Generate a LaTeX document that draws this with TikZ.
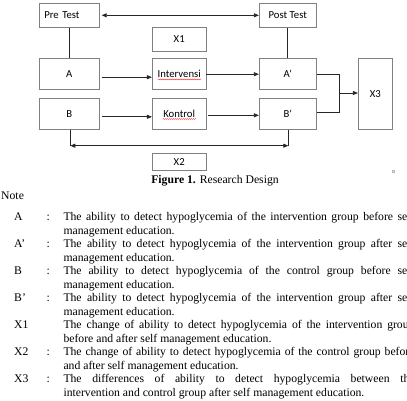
\documentclass[tikz,border=0pt]{standalone}
\usepackage{fontspec}
\setmainfont{Liberation Serif}
\newfontfamily\boxfont{Carlito}
\usetikzlibrary{positioning,arrows.meta,calc,decorations.pathmorphing}

\begin{document}
\begin{tikzpicture}[
    x=1pt, y=-1pt,
    box/.style={draw=black!50, line width=0.8pt, rectangle, align=center, inner sep=0pt, font=\boxfont\fontsize{10.7}{12}\selectfont},
    col1/.style={box, minimum width=60pt},
    col2/.style={box, minimum width=53.7pt},
    col3/.style={box, minimum width=57pt},
    arrow/.style={-{Triangle[length=5pt,width=4pt]}, line width=0.8pt, black!85},
    both/.style={{Triangle[length=5pt,width=4pt]}-{Triangle[length=5pt,width=4pt]}, line width=0.8pt, black!85},
    link/.style={line width=0.8pt, black!85},
    txt/.style={inner sep=0pt, anchor=west, text height=8pt, text depth=2.5pt, font=\fontsize{11.7}{13.5}\selectfont},
    wavy/.style={red!80, line width=0.4pt, decorate, decoration={snake, amplitude=0.5pt, segment length=2pt}}
]
\useasboundingbox (0,0) rectangle (407,401);

\node[col1, minimum height=24pt, text width=50pt, align=left] (pre) at (69.3,15.3) {Pre Test};
\node[col3, minimum height=24pt] (post) at (287.8,15.3) {Post Test};
\node[col2, minimum height=24pt] (xone) at (179.2,39.3) {X1};
\node[col1, minimum height=31pt] (a) at (69.3,74.2) {A};
\node[col2, minimum height=31pt] (interv) at (179.2,74.2) {Intervensi};
\node[col3, minimum height=31pt] (aprime) at (287.8,74.2) {A'};
\node[col1, minimum height=31pt] (b) at (69.3,113.8) {B};
\node[col2, minimum height=31pt] (kontrol) at (179.2,113.8) {Kontrol};
\node[col3, minimum height=31pt] (bprime) at (287.8,113.8) {B'};
\node[box, minimum width=34pt, minimum height=70.6pt] (xthree) at (375.3,94) {X3};
\node[col2, minimum height=16.7pt] (xtwo) at (179.2,161.7) {X2};

\draw[wavy] ($(interv.center)+(-21.5,5.2)$) -- ($(interv.center)+(22,5.2)$);
\draw[wavy] ($(kontrol.center)+(-16.5,5.2)$) -- ($(kontrol.center)+(17,5.2)$);

\draw[both] ([xshift=2pt]pre.east) -- (post.west);
\draw[link] (pre.south) -- (a.north);
\draw[link] (post.south) -- (aprime.north);
\draw[arrow] ([xshift=2pt,yshift=-3pt]a.east) -- ([yshift=-3pt]interv.west);
\draw[arrow] (interv.east) -- (aprime.west);
\draw[arrow] ([xshift=2pt,yshift=-3pt]b.east) -- ([yshift=-3pt]kontrol.west);
\draw[arrow] ([xshift=2pt,yshift=-1.5pt]kontrol.east) -- ([yshift=-1.5pt]bprime.west);

\coordinate (join) at (339.3,93);
\draw[link] (aprime.east) -| (join) |- ([yshift=1.5pt]bprime.east);
\draw[arrow] (join) -- (join -| xthree.west);

\coordinate (bl) at ([xshift=1pt,yshift=-16pt]b.south);
\coordinate (br) at ([xshift=0.5pt,yshift=-16pt]bprime.south);
\draw[link] ([xshift=1pt]b.south) -- (bl);
\draw[link] ([xshift=0.5pt]bprime.south) -- (br);
\draw[both] (bl) -- (br);

\draw[black!30, line width=0.3pt] (392.5,170.5) rectangle (394.5,172.5);

\node[txt, anchor=center] (caption) at (215,180.5) {\textbf{Figure 1.} Research Design};
\node[txt] (note) at (1,196.5) {Note};

\begin{scope}
\clip (0,0) rectangle (407,401);
\foreach \k/\c/\first/\second [count=\i from 0] in {
    A/:/The ability to detect hypoglycemia of the intervention group before self/management education.,
    A’/:/The ability to detect hypoglycemia of the intervention group after self/management education.,
    B/:/The ability to detect hypoglycemia of the control group before self/management education.,
    B’/:/The ability to detect hypoglycemia of the intervention group after self/management education.,
    X1//The change of ability to detect hypoglycemia of the intervention group/before and after self management education.,
    X2/:/The change of ability to detect hypoglycemia of the control group before/and after self management education.,
    X3/:/The differences of ability to detect hypoglycemia between the/intervention and control group after self management education.}
{
    \node[txt] (key\i) at (14,{218+27*\i}) {\k};
    \node[txt, anchor=center] (colon\i) at (48.3,{218+27*\i}) {\c};
    \node[txt] (desc\i) at (63.3,{218+27*\i}) {\makebox[351pt][s]{\first}};
    \node[txt] (more\i) at (63.3,{231.5+27*\i}) {\second};
}
\end{scope}
\end{tikzpicture}
\end{document}
